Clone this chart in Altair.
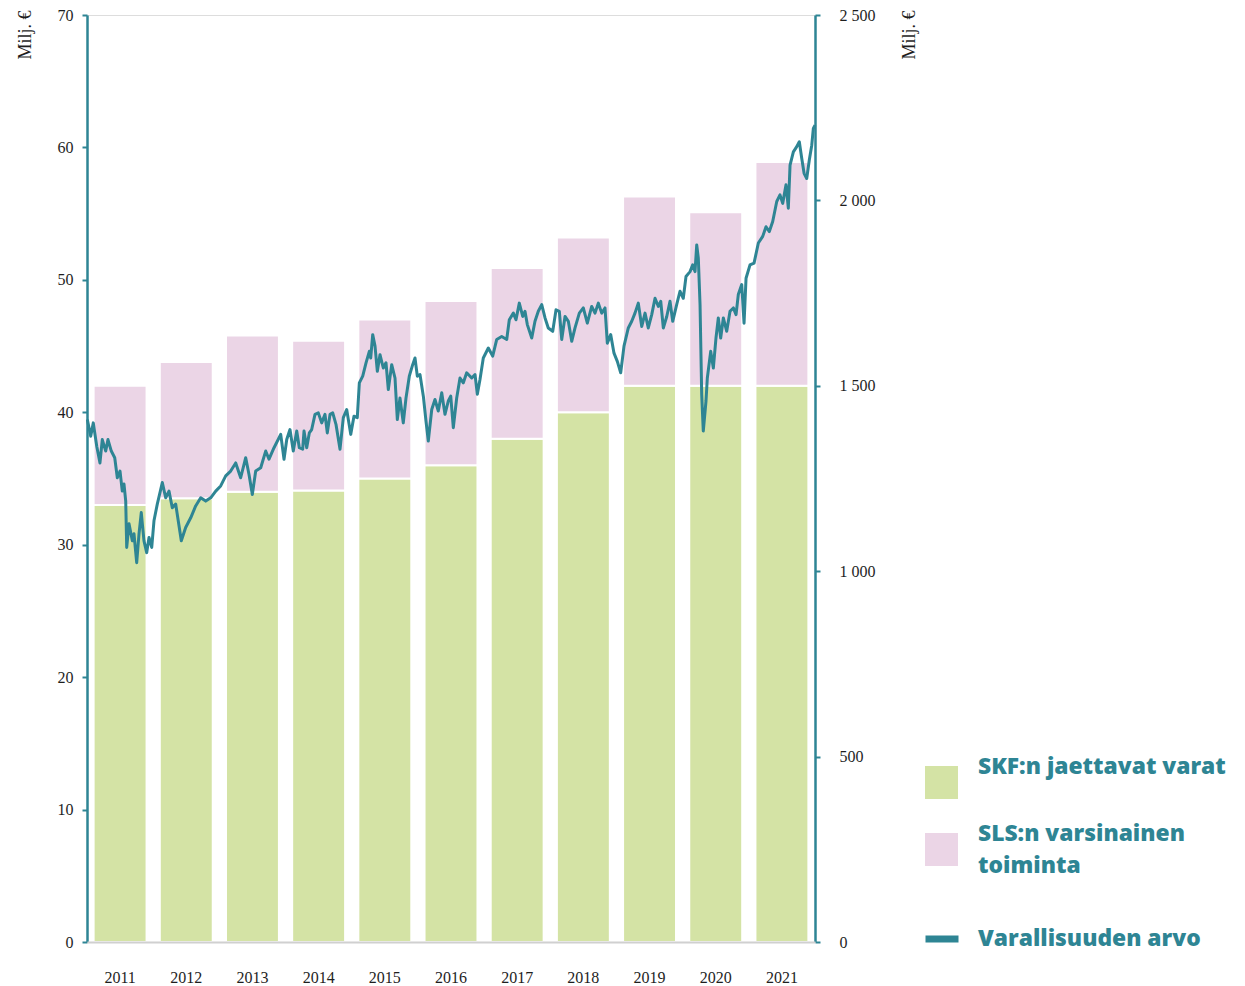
import altair as alt
import pandas as pd

# ---- data -----------------------------------------------------------------
years = ["2011", "2012", "2013", "2014", "2015", "2016",
         "2017", "2018", "2019", "2020", "2021"]
skf = [33.0, 33.5, 34.0, 34.1, 35.0, 36.0, 38.0, 40.0, 42.0, 42.0, 42.0]
sls = [9.0, 10.3, 11.8, 11.3, 12.0, 12.4, 12.9, 13.2, 14.3, 13.1, 16.9]

wealth_t = [
    2011.005, 2011.056, 2011.095, 2011.147, 2011.196, 2011.231, 2011.283, 2011.317,
    2011.367, 2011.419, 2011.458, 2011.499, 2011.533, 2011.559, 2011.585, 2011.600,
    2011.635, 2011.685, 2011.710, 2011.751, 2011.786, 2011.820, 2011.861, 2011.902,
    2011.937, 2011.978, 2012.012, 2012.062, 2012.138, 2012.189, 2012.239, 2012.289,
    2012.340, 2012.425, 2012.491, 2012.567, 2012.642, 2012.718, 2012.794, 2012.869,
    2012.945, 2013.020, 2013.096, 2013.171, 2013.247, 2013.322, 2013.398, 2013.448,
    2013.498, 2013.549, 2013.625, 2013.700, 2013.750, 2013.826, 2013.927, 2013.977,
    2014.018, 2014.067, 2014.117, 2014.169, 2014.208, 2014.259, 2014.279, 2014.320,
    2014.359, 2014.395, 2014.445, 2014.495, 2014.546, 2014.596, 2014.631, 2014.672,
    2014.713, 2014.762, 2014.823, 2014.873, 2014.924, 2014.985, 2015.034, 2015.084,
    2015.115, 2015.166, 2015.216, 2015.266, 2015.287, 2015.317, 2015.352, 2015.387,
    2015.427, 2015.477, 2015.518, 2015.553, 2015.604, 2015.654, 2015.689, 2015.729,
    2015.779, 2015.820, 2015.870, 2015.921, 2015.956, 2015.991, 2016.032, 2016.082,
    2016.122, 2016.157, 2016.209, 2016.258, 2016.308, 2016.360, 2016.409, 2016.459,
    2016.496, 2016.535, 2016.586, 2016.636, 2016.686, 2016.737, 2016.813, 2016.863,
    2016.898, 2016.938, 2016.988, 2017.064, 2017.130, 2017.191, 2017.266, 2017.342,
    2017.381, 2017.442, 2017.482, 2017.532, 2017.584, 2017.618, 2017.653, 2017.720,
    2017.769, 2017.819, 2017.871, 2017.921, 2017.970, 2018.037, 2018.087, 2018.137,
    2018.173, 2018.223, 2018.273, 2018.324, 2018.374, 2018.439, 2018.499, 2018.560,
    2018.626, 2018.676, 2018.726, 2018.777, 2018.827, 2018.862, 2018.913, 2018.963,
    2019.013, 2019.064, 2019.114, 2019.179, 2019.231, 2019.280, 2019.330, 2019.382,
    2019.432, 2019.481, 2019.533, 2019.583, 2019.633, 2019.669, 2019.708, 2019.760,
    2019.809, 2019.850, 2019.910, 2019.960, 2020.010, 2020.051, 2020.112, 2020.152,
    2020.187, 2020.213, 2020.237, 2020.263, 2020.288, 2020.312, 2020.353, 2020.373,
    2020.424, 2020.464, 2020.504, 2020.539, 2020.575, 2020.615, 2020.666, 2020.716,
    2020.766, 2020.807, 2020.841, 2020.893, 2020.928, 2020.958, 2021.018, 2021.079,
    2021.144, 2021.210, 2021.260, 2021.310, 2021.361, 2021.422, 2021.471, 2021.512,
    2021.562, 2021.597, 2021.623, 2021.673, 2021.724, 2021.763, 2021.800, 2021.835,
    2021.875, 2021.914, 2021.951, 2021.975, 2022.000,
]
wealth_v = [
    1409, 1364, 1400, 1337, 1292, 1355, 1324, 1355,
    1324, 1306, 1252, 1270, 1216, 1235, 1189, 1064,
    1128, 1082, 1101, 1023, 1101, 1158, 1082, 1050,
    1091, 1064, 1136, 1181, 1239, 1198, 1216, 1171,
    1181, 1082, 1118, 1144, 1176, 1198, 1189, 1198,
    1216, 1230, 1257, 1270, 1292, 1252, 1306, 1261,
    1207, 1270, 1279, 1324, 1302, 1333, 1369, 1302,
    1355, 1382, 1324, 1378, 1333, 1329, 1378, 1333,
    1373, 1382, 1423, 1427, 1400, 1423, 1373, 1423,
    1427, 1396, 1329, 1414, 1436, 1369, 1418, 1414,
    1508, 1526, 1562, 1593, 1575, 1638, 1607, 1539,
    1584, 1548, 1562, 1490, 1557, 1521, 1409, 1467,
    1400, 1467, 1526, 1557, 1575, 1526, 1530, 1472,
    1405, 1351, 1436, 1463, 1432, 1481, 1423, 1459,
    1472, 1387, 1467, 1521, 1508, 1535, 1521, 1530,
    1477, 1517, 1575, 1602, 1580, 1625, 1633, 1625,
    1678, 1696, 1678, 1723, 1687, 1701, 1665, 1629,
    1674, 1701, 1719, 1683, 1656, 1647, 1705, 1701,
    1625, 1687, 1674, 1620, 1656, 1696, 1710, 1669,
    1714, 1696, 1723, 1696, 1710, 1615, 1638, 1588,
    1566, 1535, 1607, 1656, 1674, 1696, 1723, 1660,
    1696, 1656, 1692, 1736, 1714, 1728, 1656, 1687,
    1728, 1674, 1719, 1755, 1736, 1795, 1808, 1826,
    1808, 1880, 1844, 1719, 1477, 1378, 1459, 1521,
    1593, 1548, 1629, 1683, 1629, 1683, 1647, 1701,
    1710, 1692, 1746, 1773, 1669, 1790, 1826, 1831,
    1885, 1903, 1929, 1916, 1943, 1997, 2015, 1992,
    2042, 1979, 2095, 2131, 2145, 2158, 2113, 2073,
    2059, 2109, 2149, 2194, 2203,
]

left_ticks = [0, 10, 20, 30, 40, 50, 60, 70]
right_ticks = [0, 500, 1000, 1500, 2000, 2500]

SKF_LABEL = "SKF:n jaettavat varat"
SLS_LABEL = "SLS:n varsinainen toiminta"
LINE_LABEL = "Varallisuuden arvo"

# ---- styles ---------------------------------------------------------------
TEAL = "#2e8594"
GREEN = "#d4e3a5"
PINK = "#ebd5e6"
SERIF = "Liberation Serif"
SANS = "Open Sans"
INK = "#1e1e1e"
LEG_SIZE = 22.8

n = len(years)
bars_df = pd.DataFrame({
    "year": years * 2,
    "series": [SKF_LABEL] * n + [SLS_LABEL] * n,
    "value": skf + sls,
    "order": [0] * n + [1] * n,
})
line_df = pd.DataFrame({"t": wealth_t, "v": wealth_v, "series": [LINE_LABEL] * len(wealth_t)})

bars = alt.Chart(bars_df).mark_bar(stroke="white", strokeWidth=2).encode(
    x=alt.X(
        "year:N", sort=years,
        scale=alt.Scale(paddingInner=0.2, paddingOuter=0.1),
        axis=alt.Axis(
            title=None, labelAngle=0, labelFont=SERIF, labelFontSize=16,
            labelColor=INK, labelBaseline="middle", labelPadding=35,
            ticks=False, tickSize=0, domainColor="#d0d0d0", domainWidth=2,
            zindex=1,
        ),
    ),
    y=alt.Y(
        "value:Q", stack="zero",
        scale=alt.Scale(domain=[0, 70], nice=False),
        axis=alt.Axis(
            values=left_ticks, grid=False, title="Milj. €",
            labelFont=SERIF, labelFontSize=16, labelColor=INK, labelPadding=9,
            tickSize=5, tickColor=TEAL, tickWidth=2,
            domainColor=TEAL, domainWidth=2.5,
            titleFont=SERIF, titleFontSize=18, titleFontWeight="normal",
            titleColor=INK, titleAngle=270, titleAlign="right",
            titleBaseline="alphabetic", titleX=-57, titleY=-5,
        ),
    ),
    color=alt.Color(
        "series:N",
        scale=alt.Scale(domain=[SKF_LABEL, SLS_LABEL], range=[GREEN, PINK]),
        legend=alt.Legend(
            title=None, orient="none", legendX=838, legendY=751,
            direction="vertical", symbolType="square", symbolSize=1089,
            symbolStrokeWidth=0, symbolOpacity=1,
            labelFont=SANS, labelFontSize=LEG_SIZE, labelFontWeight=800,
            labelColor=TEAL, labelOffset=20, labelLimit=400, rowPadding=23,
            labelBaseline="line-bottom", padding=0,
            labelExpr=("datum.label == '" + SLS_LABEL + "' ? "
                       "['SLS:n varsinainen', 'toiminta'] : datum.label"),
        ),
    ),
    order=alt.Order("order:Q"),
)

line = alt.Chart(line_df).mark_line(strokeWidth=3, strokeJoin="round").encode(
    x=alt.X("t:Q", scale=alt.Scale(domain=[2011, 2022], nice=False, zero=False), axis=None),
    y=alt.Y(
        "v:Q",
        scale=alt.Scale(domain=[0, 2500], nice=False),
        axis=alt.Axis(
            orient="right", values=right_ticks, grid=False, title="Milj. €",
            labelExpr="replace(format(datum.value, ','), ',', ' ')",
            labelFont=SERIF, labelFontSize=16, labelColor=INK, labelPadding=19,
            tickSize=5, tickColor=TEAL, tickWidth=2,
            domainColor=TEAL, domainWidth=2.5,
            titleFont=SERIF, titleFontSize=18, titleFontWeight="normal",
            titleColor=INK, titleAngle=270, titleAlign="right",
            titleBaseline="alphabetic", titleX=99, titleY=-5,
        ),
    ),
    stroke=alt.Stroke(
        "series:N",
        scale=alt.Scale(domain=[LINE_LABEL], range=[TEAL]),
        legend=alt.Legend(
            title=None, orient="none", legendX=835, legendY=904,
            symbolType="stroke", symbolSize=1089, symbolStrokeWidth=7,
            labelFont=SANS, labelFontSize=LEG_SIZE, labelFontWeight=800,
            labelColor=TEAL, labelOffset=16, labelLimit=400, padding=0,
        ),
    ),
)

chart = (
    alt.layer(bars, line)
    .resolve_scale(x="independent", y="independent", color="independent", stroke="independent")
    .properties(
        width=728, height=927,
        autosize=alt.AutoSizeParams(type="none"),
        padding={"left": 79, "top": 7, "right": 420, "bottom": 44},
    )
    .configure_view(stroke=None)
    .configure(style={"guide-label": {"lineHeight": 32}})
)

chart.save("out.html", embed_options={"renderer": "svg", "actions": False})
